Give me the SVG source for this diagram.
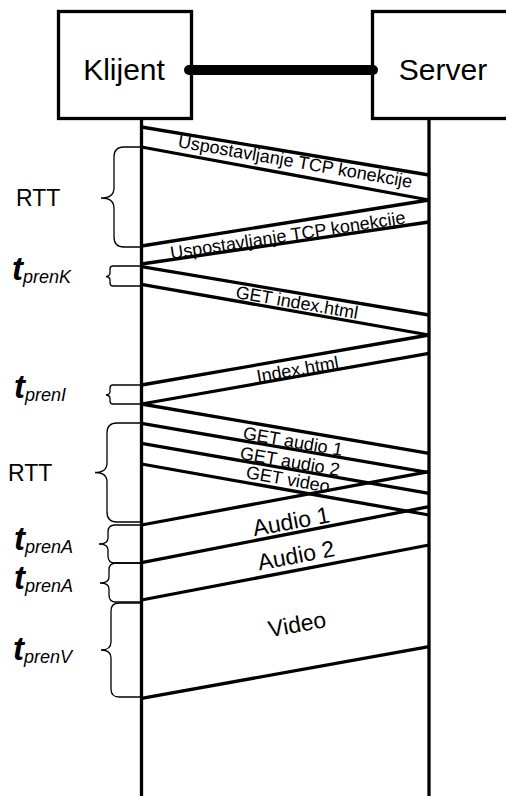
<svg xmlns="http://www.w3.org/2000/svg" width="506" height="796" viewBox="0 0 506 796">
<style>
.box{fill:#fff;stroke:#000;stroke-width:3.3}
.life{stroke:#000;stroke-width:3.3;fill:none}
.msg{stroke:#000;stroke-width:3.3;fill:none}
.brace{stroke:#000;stroke-width:1.3;fill:none}
.lbl{font-family:"Liberation Sans",Arial,sans-serif;font-size:18px;fill:#000;text-anchor:middle}
.big{font-family:"Liberation Sans",Arial,sans-serif;font-size:23px;fill:#000;text-anchor:middle}
.node{font-family:"Liberation Sans",Arial,sans-serif;font-size:30px;fill:#000;text-anchor:middle}
.rtt{font-family:"Liberation Sans",Arial,sans-serif;font-size:23px;fill:#000}
.t{font-family:"Liberation Sans",Arial,sans-serif;font-size:33px;font-weight:bold;font-style:italic;fill:#000}
.sub{font-size:18px;font-weight:normal;font-style:italic}
</style>
<rect width="506" height="796" fill="#fff"/>
<g id="lifelines">
<line class="life" x1="141.5" y1="118" x2="141.5" y2="796"/>
<line class="life" x1="429" y1="118" x2="429" y2="796"/>
</g>
<g id="klijent">
<rect class="box" x="58.5" y="11.5" width="133" height="107"/>
<text class="node" x="124" y="80">Klijent</text>
</g>
<g id="server">
<rect class="box" x="372.5" y="11.5" width="140" height="107"/>
<text class="node" x="443" y="80">Server</text>
</g>
<g id="connectors">
<line x1="189" y1="70" x2="373" y2="70" stroke="#000" stroke-width="10" stroke-linecap="round"/>
<line class="msg" x1="141.5" y1="127" x2="429" y2="175"/>
<line class="msg" x1="141.5" y1="147" x2="429" y2="200"/>
<line class="msg" x1="429" y1="200" x2="141.5" y2="246"/>
<line class="msg" x1="429" y1="222" x2="141.5" y2="264"/>
<line class="msg" x1="141.5" y1="266.7" x2="429" y2="315"/>
<line class="msg" x1="141.5" y1="284.3" x2="429" y2="335"/>
<line class="msg" x1="429" y1="335" x2="141.5" y2="385"/>
<line class="msg" x1="429" y1="353.3" x2="141.5" y2="404"/>
<line class="msg" x1="141.5" y1="404" x2="429" y2="453.3"/>
<line class="msg" x1="141.5" y1="423.3" x2="429" y2="472.7"/>
<line class="msg" x1="141.5" y1="443.3" x2="429" y2="493.3"/>
<line class="msg" x1="141.5" y1="464" x2="429" y2="515"/>
<line class="msg" x1="429" y1="471.7" x2="141.5" y2="525"/>
<line class="msg" x1="429" y1="506.7" x2="141.5" y2="562.7"/>
<line class="msg" x1="429" y1="545" x2="141.5" y2="600"/>
<line class="msg" x1="429" y1="646.7" x2="141.5" y2="698.3"/>
</g>
<g id="message-labels">
<text class="lbl" x="295" y="167.6" transform="rotate(9.9 295 163)">Uspostavljanje TCP konekcije</text>
<text class="lbl" x="288" y="241.3" transform="rotate(-8.7 288 236.7)">Uspostavljanje TCP konekcije</text>
<text class="lbl" x="297" y="308.5" transform="rotate(9.8 297 302)">GET index.html</text>
<text class="lbl" x="297.5" y="375.5" transform="rotate(-10 297.5 369)">Index.html</text>
<text class="lbl" x="293" y="447.5" transform="rotate(9.8 293 441)">GET audio 1</text>
<text class="lbl" x="290" y="467.5" transform="rotate(9.9 290 461)">GET audio 2</text>
<text class="lbl" x="288" y="485.5" transform="rotate(10 288 479)">GET video</text>
<text class="big" x="291" y="529.3" transform="rotate(-10.5 291 521)">Audio 1</text>
<text class="big" x="296" y="563.3" transform="rotate(-10.8 296 555)">Audio 2</text>
<text class="big" x="297" y="632.3" transform="rotate(-10.2 297 624)">Video</text>
</g>
<g id="braces">
<path class="brace" d="M141,147 H124 Q114,147 114,157 V188 Q114,198 101,198 Q114,198 114,208 V237 Q114,247 124,247 H141"/>
<path class="brace" d="M141,266 H113 Q110,266 110,269 V273 Q110,276 106,276.5 Q110,277 110,280 V283 Q110,286 113,286 H141"/>
<path class="brace" d="M141,385 H113 Q110,385 110,388 V391.5 Q110,394.5 106,395 Q110,395.5 110,398.5 V401 Q110,404 113,404 H141"/>
<path class="brace" d="M141,423 H117 Q107,423 107,433 V463 Q107,472.5 95,472.5 Q107,472.5 107,482 V512 Q107,522 117,522 H141"/>
<path class="brace" d="M141,525 H115 Q108,525 108,532 V538 Q108,544 99,544 Q108,544 108,550 V556 Q108,563 115,563 H141"/>
<path class="brace" d="M141,563 H116 Q109,563 109,570 V577 Q109,583 100,583 Q109,583 109,589 V595 Q109,602 116,602 H141"/>
<path class="brace" d="M141,603 H119 Q111,603 111,611 V642 Q111,650 101,650 Q111,650 111,658 V689 Q111,697 119,697 H141"/>
</g>
<g id="time-labels">
<text class="rtt" x="16" y="206">RTT</text>
<text class="rtt" x="8" y="481">RTT</text>
<text class="t" x="12" y="280">t<tspan class="sub" dy="3">prenK</tspan></text>
<text class="t" x="14" y="398">t<tspan class="sub" dy="3">prenI</tspan></text>
<text class="t" x="14" y="550">t<tspan class="sub" dy="3">prenA</tspan></text>
<text class="t" x="14" y="589">t<tspan class="sub" dy="3">prenA</tspan></text>
<text class="t" x="13" y="660">t<tspan class="sub" dy="3">prenV</tspan></text>
</g>
</svg>
